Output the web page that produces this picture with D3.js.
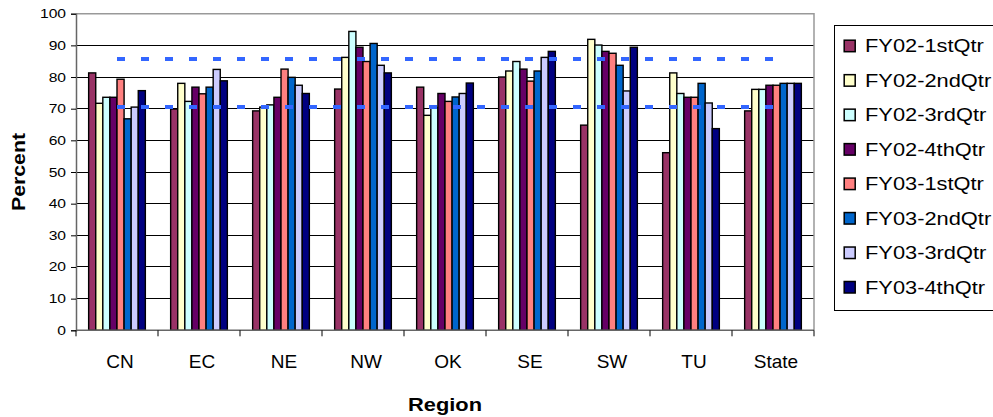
<!DOCTYPE html>
<html>
<head>
<meta charset="utf-8">
<script src="https://cdn.jsdelivr.net/npm/d3@7/dist/d3.min.js"></script>
<style>
  html, body { margin: 0; padding: 0; background: #fff; }
  svg { display: block; font-family: "Liberation Sans", Arial, sans-serif; }
</style>
</head>
<body>
<svg id="chart" width="993" height="417"></svg>
<script>
// Regions and quarterly percentages
const regions = ["CN", "EC", "NE", "NW", "OK", "SE", "SW", "TU", "State"];
const seriesNames = ["FY02-1stQtr", "FY02-2ndQtr", "FY02-3rdQtr", "FY02-4thQtr",
                     "FY03-1stQtr", "FY03-2ndQtr", "FY03-3rdQtr", "FY03-4thQtr"];
const seriesColors = ["#993366", "#FFFFCC", "#CCFFFF", "#660066",
                      "#FF8080", "#0066CC", "#CCCCFF", "#000080"];

const fy02q1 = [81.3, 69.9, 69.3, 76.2, 76.8, 80.0, 64.8, 56.1, 69.3];
const fy02q2 = [71.7, 78.0, 70.5, 86.2, 67.9, 81.9, 91.9, 81.3, 76.1];
const fy02q3 = [73.6, 72.3, 71.2, 94.4, 70.4, 84.9, 90.1, 74.8, 76.1];
const fy02q4 = [73.6, 76.8, 73.6, 89.4, 74.8, 82.5, 88.1, 73.6, 77.4];
const fy03q1 = [79.3, 74.7, 82.5, 84.9, 72.3, 78.7, 87.5, 73.6, 77.4];
const fy03q2 = [66.8, 76.8, 79.9, 90.6, 73.7, 81.9, 83.7, 78.0, 78.0];
const fy03q3 = [70.5, 82.4, 77.4, 83.7, 74.8, 86.2, 75.6, 71.8, 78.0];
const fy03q4 = [75.7, 78.8, 74.8, 81.3, 78.1, 88.1, 89.4, 63.7, 78.0];

// Reference levels drawn as dashed lines across the regions
const referenceLevels = [85.7, 70.5];

const yTicks = [0, 10, 20, 30, 40, 50, 60, 70, 80, 90, 100];

const seriesValues = [fy02q1, fy02q2, fy02q3, fy02q4, fy03q1, fy03q2, fy03q3, fy03q4];

const svg = d3.select("#chart");
const plot = { left: 76, right: 814, top: 13.7, bottom: 330.3 };

// Stretch a text element horizontally by a factor, keeping its anchor
function widen(sel, factor) {
  sel.each(function () {
    const w = this.getComputedTextLength();
    d3.select(this)
      .attr("textLength", w * factor)
      .attr("lengthAdjust", "spacingAndGlyphs");
  });
}

const barShare = 56.7 / 82;
const x = d3.scaleBand()
  .domain(regions)
  .range([plot.left, plot.right])
  .paddingInner(1 - barShare)
  .paddingOuter((1 - barShare) / 2);

const xs = d3.scaleBand()
  .domain(seriesNames)
  .range([0, x.bandwidth()]);

const y = d3.scaleLinear().domain([0, 100]).range([plot.bottom, plot.top]);

// Horizontal gridlines
svg.append("g")
  .selectAll("line")
  .data(yTicks.filter(t => t > 0 && t < 100))
  .join("line")
  .attr("x1", plot.left).attr("x2", plot.right)
  .attr("y1", d => y(d)).attr("y2", d => y(d))
  .attr("stroke", "#000").attr("stroke-width", 1)
  .attr("shape-rendering", "crispEdges");

// Plot frame (top and right edges)
svg.append("path")
  .attr("d", `M${plot.left},${y(100)}H${plot.right}V${plot.bottom}`)
  .attr("fill", "none").attr("stroke", "#999").attr("stroke-width", 1.5);

// Bars
const groups = svg.append("g")
  .selectAll("g")
  .data(seriesNames.map((name, i) => ({ name, color: seriesColors[i], values: seriesValues[i] })))
  .join("g")
  .attr("fill", d => d.color);

groups.selectAll("rect")
  .data(d => d.values.map((v, j) => ({ name: d.name, region: regions[j], value: v })))
  .join("rect")
  .attr("x", d => x(d.region) + xs(d.name))
  .attr("y", d => y(d.value))
  .attr("width", xs.bandwidth())
  .attr("height", d => y(0) - y(d.value))
  .attr("stroke", "#000")
  .attr("stroke-width", 1.4);

// Dashed reference lines spanning the region centres
const firstCentre = x(regions[0]) + x.bandwidth() / 2;
const lastCentre = x(regions[regions.length - 1]) + x.bandwidth() / 2;
svg.append("g")
  .selectAll("line")
  .data(referenceLevels)
  .join("line")
  .attr("x1", firstCentre).attr("x2", lastCentre)
  .attr("y1", d => y(d)).attr("y2", d => y(d))
  .attr("stroke", "#3366FF").attr("stroke-width", 4)
  .attr("stroke-dasharray", "8 16");

// Y axis
const yAxis = svg.append("g")
  .attr("transform", `translate(${plot.left},0)`)
  .call(d3.axisLeft(y).tickValues(yTicks).tickSize(5).tickPadding(5).tickFormat(d3.format("d")));
yAxis.select(".domain").attr("stroke", "#666").attr("stroke-width", 1.5);
yAxis.selectAll(".tick line").attr("stroke", "#000");
yAxis.selectAll(".tick text")
  .attr("font-family", "Liberation Sans, Arial, sans-serif")
  .attr("font-size", 12.5)
  .attr("fill", "#000")
  .call(widen, 1.25);

// X axis: line, boundary ticks and region labels
const xAxis = svg.append("g");
xAxis.append("line")
  .attr("x1", plot.left).attr("x2", plot.right)
  .attr("y1", plot.bottom).attr("y2", plot.bottom)
  .attr("stroke", "#666").attr("stroke-width", 1.5);
const boundaries = regions.map(r => x(r) - x.step() * x.paddingInner() / 2)
  .concat([plot.right]);
xAxis.selectAll("line.tick")
  .data(boundaries)
  .join("line")
  .attr("class", "tick")
  .attr("x1", d => d).attr("x2", d => d)
  .attr("y1", plot.bottom).attr("y2", plot.bottom + 6)
  .attr("stroke", "#000").attr("stroke-width", 1);
xAxis.selectAll("text")
  .data(regions)
  .join("text")
  .attr("x", d => x(d) + x.bandwidth() / 2 + 3)
  .attr("y", 368)
  .attr("text-anchor", "middle")
  .attr("font-size", 19)
  .attr("fill", "#000")
  .text(d => d);

// Axis titles
svg.append("text")
  .attr("x", (plot.left + plot.right) / 2)
  .attr("y", 410.5)
  .attr("text-anchor", "middle")
  .attr("font-size", 18.5)
  .attr("font-weight", "bold")
  .attr("textLength", 74)
  .attr("lengthAdjust", "spacingAndGlyphs")
  .text("Region");

svg.append("text")
  .attr("transform", `translate(25,${(plot.top + plot.bottom) / 2}) rotate(-90)`)
  .attr("text-anchor", "middle")
  .attr("font-size", 18.5)
  .attr("font-weight", "bold")
  .attr("textLength", 78)
  .attr("lengthAdjust", "spacingAndGlyphs")
  .text("Percent");

// Legend
const legend = svg.append("g");
legend.append("rect")
  .attr("x", 834.5).attr("y", 25.5)
  .attr("width", 170).attr("height", 285)
  .attr("fill", "#fff").attr("stroke", "#000").attr("stroke-width", 1);

const legendRow = d3.scalePoint()
  .domain(seriesNames)
  .range([45.7, 287]);

const items = legend.selectAll("g.item")
  .data(seriesNames.map((name, i) => ({ name, color: seriesColors[i] })))
  .join("g")
  .attr("class", "item")
  .attr("transform", d => `translate(0,${legendRow(d.name)})`);

items.append("rect")
  .attr("x", 844.2).attr("y", -5.5)
  .attr("width", 11).attr("height", 11.5)
  .attr("fill", d => d.color)
  .attr("stroke", "#000").attr("stroke-width", 1.5);

items.append("text")
  .attr("x", 865)
  .attr("y", 6.6)
  .attr("font-size", 18.5)
  .attr("fill", "#000")
  .text(d => d.name)
  .call(widen, 1.18);
</script>
</body>
</html>
